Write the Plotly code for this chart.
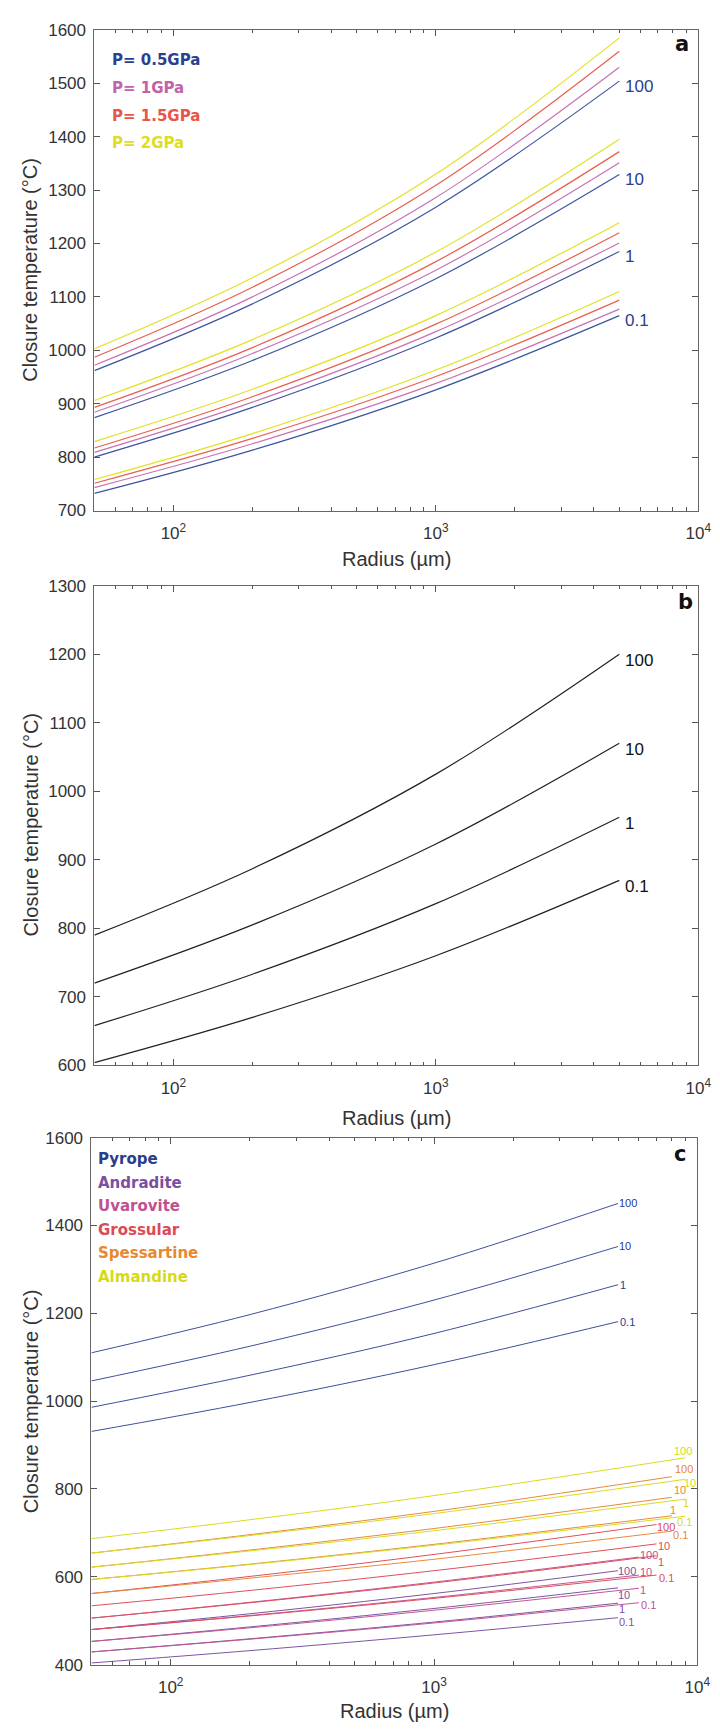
import numpy as np
import plotly.graph_objects as go

# ---------------- data ----------------
R_STD = [50, 200, 1000, 5000]          # radius (µm) sample points
RATES = ['0.1', '1', '10', '100']       # cooling-rate labels

# Panel a: closure temperature (°C) per pressure, one list per rate (0.1, 1, 10, 100)
A_P05 = [[732, 813, 926, 1065], [800, 893, 1023, 1185], [874, 981, 1134, 1329], [962, 1087, 1268, 1504]]
A_P10 = [[743, 825, 938, 1077], [809, 903, 1035, 1201], [884, 994, 1150, 1351], [972, 1100, 1286, 1530]]
A_P15 = [[751, 835, 951, 1094], [817, 913, 1049, 1220], [893, 1005, 1166, 1372], [987, 1118, 1309, 1560]]
A_P20 = [[758, 844, 963, 1110], [829, 927, 1065, 1239], [906, 1020, 1184, 1395], [1003, 1136, 1330, 1585]]
A_NAMES = ['P= 0.5GPa', 'P= 1GPa', 'P= 1.5GPa', 'P= 2GPa']

# Panel b
B_T = [[604, 670, 760, 870], [658, 733, 836, 962], [720, 805, 923, 1070], [790, 887, 1025, 1200]]

# Panel c
C_NAMES = ['Pyrope', 'Andradite', 'Uvarovite', 'Grossular', 'Spessartine', 'Almandine']
C_REND = [5000, 5000, 6000, 7000, 8000, 9000]   # last radius of each mineral's curves
C_PYR = [[931, 997, 1083, 1181], [986, 1059, 1154, 1265], [1046, 1125, 1230, 1352], [1110, 1197, 1314, 1450]]
C_ADR = [[404, 432, 468, 507], [429, 459, 497, 540], [453, 486, 528, 575], [480, 516, 562, 614]]
C_UVR = [[429, 458, 495, 541], [453, 484, 524, 574], [480, 512, 553, 604], [506, 542, 588, 645]]
C_GRS = [[480, 511, 551, 604], [506, 541, 586, 648], [534, 569, 614, 675], [562, 601, 651, 719]]
C_SPS = [[562, 597, 640, 704], [594, 629, 674, 739], [622, 661, 710, 781], [654, 696, 749, 828]]
C_ALM = [[594, 628, 672, 738], [622, 659, 705, 777], [654, 694, 744, 822], [687, 730, 785, 871]]

X_TICKS = [100, 1000, 10000]
X_TICKTEXT = ['10<sup>2</sup>', '10<sup>3</sup>', '10<sup>4</sup>']
X_MINOR = [60, 70, 80, 90, 200, 300, 400, 500, 600, 700, 800, 900,
           2000, 3000, 4000, 5000, 6000, 7000, 8000, 9000]

# ---------------- style ----------------
W, H = 720, 1729
A_COLORS = ['#3b55a0', '#c872b4', '#e8604f', '#e2e222']
A_TEXT_COLORS = ['#2b4090', '#c262aa', '#e8554a', '#dede1c']
C_COLORS = ['#3e4f9c', '#7b55a5', '#c4558f', '#de4f5c', '#e88a3a', '#d8dc1e']
C_TEXT_COLORS = ['#2a3c8e', '#7b4fa0', '#c0508f', '#dc4b55', '#e8882f', '#d6da14']
TICKFONT = dict(family='Liberation Sans, Arial', size=17, color='#333333')
TITLEFONT = dict(family='Liberation Sans, Arial', size=20, color='#333333')

def px_y(py):
    return 1 - py / H

def px_x(px):
    return px / W

fig = go.Figure()

# panel a traces
for pi, (series, col) in enumerate(zip([A_P05, A_P10, A_P15, A_P20], A_COLORS)):
    for ri, vals in enumerate(series):
        fig.add_trace(go.Scatter(x=R_STD, y=vals, mode='lines', xaxis='x', yaxis='y',
                                 line=dict(color=col, width=1.2, shape='spline'),
                                 showlegend=False, hoverinfo='skip'))
# panel b traces
for vals in B_T:
    fig.add_trace(go.Scatter(x=R_STD, y=vals, mode='lines', xaxis='x2', yaxis='y2',
                             line=dict(color='#222222', width=1.2, shape='spline'),
                             showlegend=False, hoverinfo='skip'))
# panel c traces
C_ALL = [C_PYR, C_ADR, C_UVR, C_GRS, C_SPS, C_ALM]
for mi, (series, col, rend) in enumerate(zip(C_ALL, C_COLORS, C_REND)):
    xs = R_STD[:3] + [rend]
    for vals in series:
        fig.add_trace(go.Scatter(x=xs, y=vals, mode='lines', xaxis='x3', yaxis='y3',
                                 line=dict(color=col, width=1.0, shape='spline'),
                                 showlegend=False, hoverinfo='skip'))

def xaxis(domain, anchor):
    return dict(type='log', range=[np.log10(50), 4], domain=domain, anchor=anchor,
                tickmode='array', tickvals=X_TICKS, ticktext=X_TICKTEXT,
                ticks='inside', ticklen=6, tickwidth=1, tickcolor='#555555',
                showline=True, linecolor='#666666', linewidth=1, mirror='ticks',
                showgrid=False, zeroline=False, tickfont=TICKFONT, ticklabelstandoff=7,
                minor=dict(tickmode='array', tickvals=X_MINOR, ticks='inside', ticklen=3.5,
                           tickwidth=1, tickcolor='#555555', showgrid=False))

def yaxis(domain, anchor, rng, dtick):
    return dict(range=rng, domain=domain, anchor=anchor, tick0=0, dtick=dtick,
                ticks='inside', ticklen=6, tickwidth=1, tickcolor='#555555',
                showline=True, linecolor='#666666', linewidth=1, mirror='ticks',
                showgrid=False, zeroline=False, tickfont=TICKFONT, ticklabelstandoff=4)

dom_x_ab = [px_x(88), px_x(703)]
dom_x_c = [px_x(85), px_x(702)]
fig.update_layout(
    xaxis=xaxis(dom_x_ab, 'y'),
    yaxis=yaxis([px_y(499), px_y(13)], 'x', [700, 1600], 100),
    xaxis2=xaxis(dom_x_ab, 'y2'),
    yaxis2=yaxis([px_y(1060), px_y(575)], 'x2', [600, 1300], 100),
    xaxis3=xaxis(dom_x_c, 'y3'),
    yaxis3=yaxis([px_y(1666), px_y(1133)], 'x3', [400, 1600], 200),
)

ann = []
def paper_text(text, x, y, font, xanchor='center', yanchor='middle', angle=0):
    ann.append(dict(text=text, x=px_x(x), y=px_y(y), xref='paper', yref='paper',
                    showarrow=False, font=font, xanchor=xanchor, yanchor=yanchor,
                    textangle=angle))

# axis titles
for yc in [548, 1113]:
    paper_text('Radius (µm)', 395.5, yc, TITLEFONT)
paper_text('Radius (µm)', 393.5, 1713, TITLEFONT)
for yc in [256, 817, 1400]:
    paper_text('Closure temperature (°C)', 23, yc, TITLEFONT, angle=-90)

# panel letters
LETTER_FONT = dict(family='DejaVu Sans', size=21, color='#111111')
paper_text('<b>a</b>', 686, 27, LETTER_FONT)
paper_text('<b>b</b>', 690, 591, LETTER_FONT)
paper_text('<b>c</b>', 684, 1150, LETTER_FONT)

# panel a legend
for i, (name, col) in enumerate(zip(A_NAMES, A_TEXT_COLORS)):
    paper_text('<b>%s</b>' % name, 104, 43 + i * 28.3,
               dict(family='DejaVu Sans', size=15, color=col), xanchor='left')
# panel c legend
for i, (name, col) in enumerate(zip(C_NAMES, C_TEXT_COLORS)):
    paper_text('<b>%s</b>' % name, 90, 1155 + i * 23.8,
               dict(family='DejaVu Sans', size=15, color=col), xanchor='left')

# curve labels, panel a (anchored at blue line ends)
for ri, vals in enumerate(A_P05):
    ann.append(dict(text=RATES[ri], x=np.log10(R_STD[-1]), y=vals[-1], xref='x', yref='y',
                    showarrow=False, xanchor='left', yanchor='middle', xshift=4, yshift=-5,
                    font=dict(family='Liberation Sans, Arial', size=17, color='#2b4090')))
# panel b
for ri, vals in enumerate(B_T):
    ann.append(dict(text=RATES[ri], x=np.log10(R_STD[-1]), y=vals[-1], xref='x2', yref='y2',
                    showarrow=False, xanchor='left', yanchor='middle', xshift=4, yshift=-6,
                    font=dict(family='Liberation Sans, Arial', size=17, color='#111111')))
# panel c: label offsets (pixels) from each line end, per mineral and rate
C_LABEL_SHIFT = [
    [(9, 0), (5, 0), (7, 0), (10, 0)],                  # Pyrope
    [(8, -4.5), (4, -6), (6, -7), (9, 0)],               # Andradite
    [(9.5, -2), (4.5, -2), (7.5, 3), (10.5, 2)],         # Uvarovite
    [(9.5, -3), (4.5, -6), (7.5, -2), (9.5, -2)],        # Grossular
    [(9, -3.5), (1, 6), (8, 7.5), (12, 7.5)],            # Spessartine
    [(-1, -5.5), (1, -3.5), (5, -4), (-2, 7)],           # Almandine
]
for mi, (series, col, rend) in enumerate(zip(C_ALL, C_TEXT_COLORS, C_REND)):
    for ri, vals in enumerate(series):
        dx, dy = C_LABEL_SHIFT[mi][ri]
        ann.append(dict(text=RATES[ri], x=np.log10(rend), y=vals[-1], xref='x3', yref='y3',
                        showarrow=False, xanchor='center', yanchor='middle', xshift=dx, yshift=dy,
                        font=dict(family='Liberation Sans, Arial', size=11, color=col)))

fig.update_layout(annotations=ann, width=W, height=H,
                  margin=dict(l=0, r=0, t=0, b=0),
                  paper_bgcolor='white', plot_bgcolor='white', showlegend=False)

fig.write_html('out.html')
